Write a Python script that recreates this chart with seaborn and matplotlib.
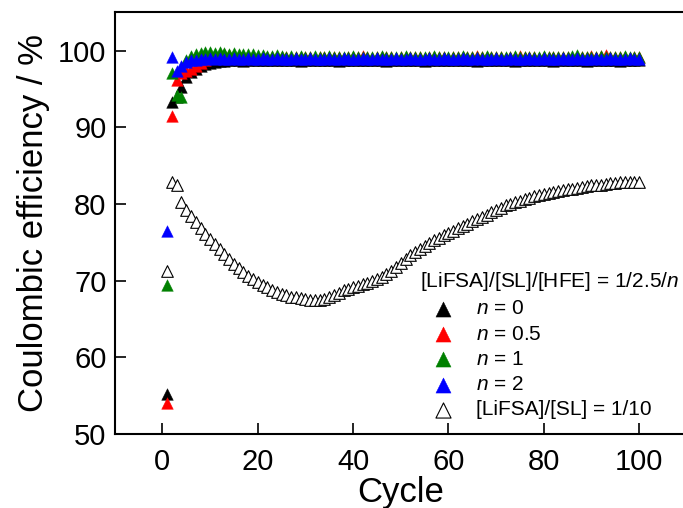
import numpy as np
import pandas as pd
import matplotlib
matplotlib.use("Agg")
import matplotlib.pyplot as plt
import seaborn as sns

# --- data ---
cycles = list(range(1, 101))

ce_n0 = [55.2, 93.3, 94.0, 95.2, 96.5, 97.2, 97.6, 98.0, 98.2, 98.4,
         98.5, 98.6, 98.6, 98.7, 98.7, 98.7, 98.6, 98.7, 98.7, 98.8,
         98.7, 98.7, 98.8, 98.7, 98.7, 98.8, 98.7, 98.7, 98.6, 98.7,
         98.7, 98.7, 98.8, 98.7, 98.7, 98.7, 98.6, 98.7, 98.7, 98.8,
         98.7, 98.7, 98.7, 98.8, 98.7, 98.7, 98.6, 98.7, 98.7, 98.7,
         98.8, 98.7, 98.7, 98.7, 98.6, 98.7, 98.7, 98.8, 98.7, 98.7,
         98.7, 98.7, 98.8, 98.7, 98.7, 98.6, 98.7, 98.7, 98.7, 98.8,
         98.7, 98.7, 98.7, 98.6, 98.7, 98.7, 98.8, 98.7, 98.7, 98.7,
         98.7, 98.6, 98.7, 98.7, 98.8, 98.7, 98.7, 98.7, 98.6, 98.7,
         98.7, 98.8, 98.7, 98.7, 98.7, 98.6, 98.7, 98.7, 98.8, 98.7]

ce_n05 = [54.0, 91.4, 96.2, 97.1, 97.3, 97.6, 98.0, 98.4, 98.8, 99.1,
          99.3, 99.4, 99.5, 99.4, 99.3, 99.2, 99.3, 99.2, 99.1, 99.2,
          99.1, 99.2, 99.1, 99.1, 99.2, 99.1, 99.0, 99.1, 99.2, 99.1,
          99.1, 99.0, 99.1, 99.1, 99.2, 99.1, 99.1, 99.0, 99.1, 99.2,
          99.1, 99.3, 99.1, 99.0, 99.1, 99.1, 99.2, 99.1, 99.0, 99.1,
          99.1, 99.2, 99.1, 99.1, 99.0, 99.1, 99.2, 99.1, 99.1, 99.0,
          99.1, 99.2, 99.1, 99.1, 99.2, 99.3, 99.2, 99.1, 99.1, 99.2,
          99.1, 99.0, 99.1, 99.2, 99.3, 99.2, 99.1, 99.1, 99.0, 99.1,
          99.2, 99.1, 99.1, 99.2, 99.1, 99.0, 99.1, 99.2, 99.1, 99.3,
          99.2, 99.3, 99.4, 99.2, 99.1, 99.2, 99.1, 99.0, 99.1, 99.1]

ce_n1 = [69.4, 97.1, 94.2, 93.9, 98.8, 99.3, 99.6, 99.7, 99.8, 99.8,
         99.7, 99.8, 99.7, 99.6, 99.7, 99.6, 99.6, 99.5, 99.5, 99.4,
         99.4, 99.3, 99.3, 99.4, 99.3, 99.2, 99.3, 99.2, 99.3, 99.2,
         99.2, 99.3, 99.2, 99.2, 99.3, 99.2, 99.2, 99.1, 99.2, 99.3,
         99.2, 99.2, 99.1, 99.2, 99.2, 99.3, 99.2, 99.1, 99.2, 99.2,
         99.3, 99.2, 99.2, 99.1, 99.2, 99.2, 99.3, 99.2, 99.2, 99.1,
         99.2, 99.2, 99.3, 99.2, 99.1, 99.2, 99.2, 99.3, 99.2, 99.2,
         99.1, 99.2, 99.2, 99.3, 99.2, 99.2, 99.1, 99.2, 99.2, 99.3,
         99.2, 99.2, 99.1, 99.2, 99.2, 99.3, 99.4, 99.2, 99.1, 99.2,
         99.2, 99.3, 99.2, 99.2, 99.1, 99.2, 99.3, 99.2, 99.2, 99.1]

ce_n2 = [76.5, 99.2, 97.3, 98.0, 98.5, 98.7, 98.8, 98.9, 98.9, 99.0,
         98.9, 99.0, 98.9, 98.9, 99.0, 98.9, 98.9, 99.0, 98.9, 98.9,
         99.0, 98.9, 98.9, 99.0, 98.9, 98.9, 98.9, 99.0, 98.9, 98.9,
         99.0, 98.9, 98.9, 98.9, 99.0, 98.9, 98.9, 99.0, 98.9, 98.9,
         98.9, 99.0, 98.9, 98.9, 99.0, 98.9, 98.9, 98.9, 99.0, 98.9,
         98.9, 99.0, 98.9, 98.9, 98.9, 99.0, 98.9, 98.9, 99.0, 98.9,
         98.9, 98.9, 99.0, 98.9, 98.9, 99.0, 98.9, 98.9, 98.9, 99.0,
         98.9, 98.9, 99.0, 98.9, 98.9, 98.9, 99.0, 98.9, 98.9, 99.0,
         98.9, 98.9, 98.9, 99.0, 98.9, 98.9, 99.0, 98.9, 98.9, 98.9,
         99.0, 98.9, 98.9, 99.0, 98.9, 98.9, 98.9, 99.0, 98.9, 98.9]

ce_sl = [71.2, 82.8, 82.5, 80.2, 79.2, 78.4, 77.6, 76.8, 76.1, 75.4,
         74.7, 74.1, 73.4, 72.8, 72.2, 71.6, 71.1, 70.6, 70.2, 69.8,
         69.4, 69.1, 68.8, 68.5, 68.3, 68.1, 67.9, 67.8, 67.7, 67.6,
         67.5, 67.5, 67.5, 67.6, 67.8, 68.1, 68.4, 68.7, 68.9, 69.1,
         69.3, 69.5, 69.7, 69.9, 70.2, 70.5, 70.9, 71.3, 71.8, 72.3,
         72.8, 73.3, 73.7, 74.1, 74.5, 74.9, 75.3, 75.6, 75.9, 76.2,
         76.5, 76.8, 77.1, 77.4, 77.7, 78.0, 78.3, 78.6, 78.9, 79.2,
         79.5, 79.8, 80.0, 80.2, 80.4, 80.6, 80.8, 81.0, 81.1, 81.3,
         81.4, 81.5, 81.7, 81.8, 81.9, 82.0, 82.1, 82.2, 82.3, 82.4,
         82.5, 82.5, 82.6, 82.7, 82.7, 82.8, 82.8, 82.9, 82.9, 82.9]

labels = [r"$n$ = 0", r"$n$ = 0.5", r"$n$ = 1", r"$n$ = 2"]
colors = ["black", "red", "green", "blue"]
series = [ce_n0, ce_n05, ce_n1, ce_n2]

# --- style ---
sns.set_theme(style="ticks")
plt.rcParams["font.family"] = ["Liberation Sans", "DejaVu Sans"]
plt.rcParams["mathtext.fontset"] = "custom"
plt.rcParams["mathtext.it"] = "Liberation Sans:italic"
plt.rcParams["mathtext.rm"] = "Liberation Sans"
plt.rcParams["text.color"] = "black"
plt.rcParams["axes.labelcolor"] = "black"

fig = plt.figure(figsize=(6.83, 5.08), dpi=100)
ax = fig.add_axes([0.168, 0.146, 0.8375, 0.830])

# open triangles first, filled series on top of each other
sns.scatterplot(x=cycles, y=ce_sl, ax=ax, marker="^", s=70,
                facecolor="white", edgecolor="black", linewidth=0.8,
                label="[LiFSA]/[SL] = 1/10", zorder=2)
for vals, col, lab in zip(series, colors, labels):
    sns.scatterplot(x=cycles, y=vals, ax=ax, marker="^", s=70,
                    color=col, edgecolor=col, linewidth=0.3,
                    label=lab, zorder=3)

ax.set_xlim(-10, 110)
ax.set_ylim(50, 105)
ax.set_xticks([0, 20, 40, 60, 80, 100])
ax.set_yticks([50, 60, 70, 80, 90, 100])
ax.tick_params(direction="in", length=8, width=1.2, labelsize=21,
               colors="black", pad=6)
ax.tick_params(axis="x", pad=10)
for sp in ax.spines.values():
    sp.set_linewidth(1.5)
    sp.set_color("black")

ax.set_xlabel("Cycle", fontsize=25, labelpad=0)
ax.set_ylabel("Coulombic efficiency / %", fontsize=25, labelpad=6)

# legend: filled series first, open one last
h, l = ax.get_legend_handles_labels()
order = [1, 2, 3, 4, 0]
leg = ax.legend([h[i] for i in order], [l[i] for i in order],
                title="[LiFSA]/[SL]/[HFE] = 1/2.5/$n$",
                loc="upper left", bbox_to_anchor=(0.593, 0.497),
                bbox_transform=fig.transFigure,
                frameon=False, fontsize=15, title_fontsize=15,
                handlelength=2.2, handletextpad=0.5, labelspacing=0.3,
                borderpad=0.2, alignment="left", scatterpoints=1,
                markerscale=1.3)

fig.savefig("out.png", dpi=100)
